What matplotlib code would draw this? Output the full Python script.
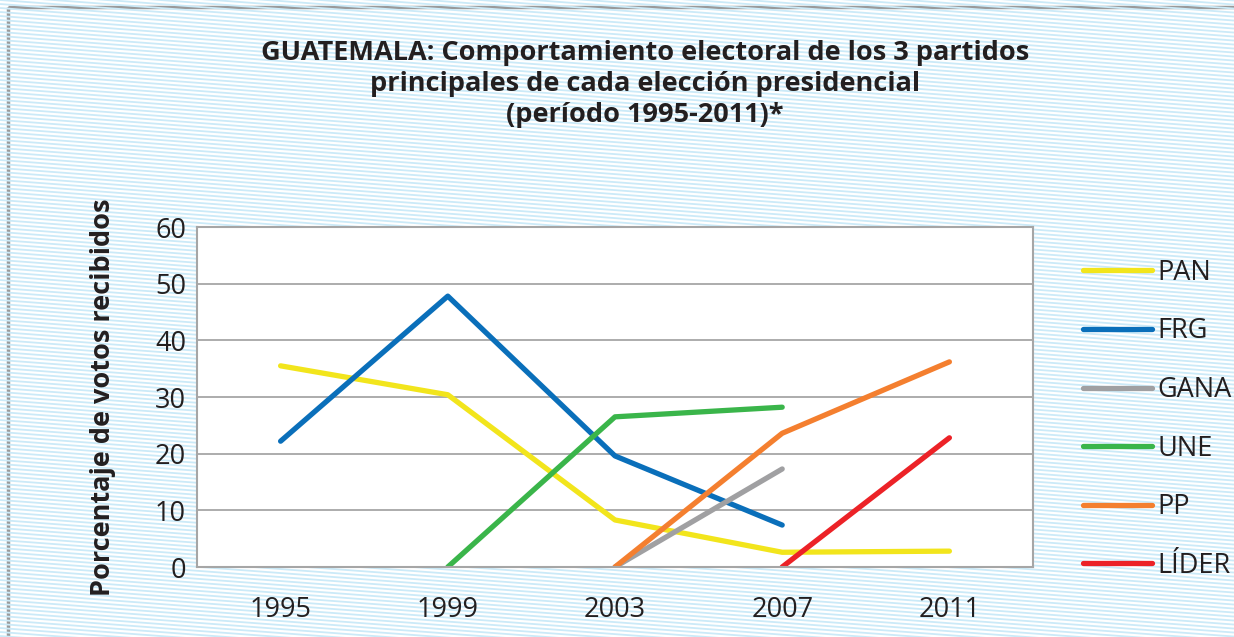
import matplotlib
matplotlib.use("Agg")
import matplotlib.pyplot as plt
from matplotlib.patches import Rectangle
import numpy as np

years = ["1995", "1999", "2003", "2007", "2011"]
PAN = [35.5, 30.4, 8.3, 2.6, 2.8]
FRG = [22.2, 47.8, 19.6, 7.4, None]
GANA = [None, None, 0, 17.3, None]
UNE = [None, 0, 26.5, 28.2, None]
PP = [None, None, 0, 23.6, 36.2]
LIDER = [None, None, None, 0, 22.8]

series = [("PAN", PAN, "#f2e51c"), ("FRG", FRG, "#0a6fba"), ("GANA", GANA, "#a0a0a2"),
          ("UNE", UNE, "#3ab54a"), ("PP", PP, "#f47f2f"), ("LÍDER", LIDER, "#ec2227")]

plt.rcParams['font.family'] = ['Open Sans', 'DejaVu Sans']
W, H = 1234, 637
fig = plt.figure(figsize=(W/100, H/100), dpi=100)
fig.patch.set_facecolor("white")

# striped background
bg = fig.add_axes([0, 0, 1, 1])
bg.set_xlim(0, W); bg.set_ylim(H, 0); bg.axis("off")
xs = np.array([0, W])
for y0 in np.arange(-120, H + 20, 4.0):
    bg.plot(xs, y0 + xs * 0.075, color="#cbeaf8", lw=1.3, solid_capstyle="butt")
bg.add_patch(Rectangle((7.5, 7), W, H, fill=False, ec="#9a9a9a", lw=2.5))

ax = fig.add_axes([197/W, 1 - 567/H, (1033-197)/W, (567-227)/H])
ax.set_facecolor("white")
x = np.arange(len(years))
for name, vals, col in series:
    v = np.array([np.nan if a is None else a for a in vals], dtype=float)
    ax.plot(x, v, color=col, lw=3.8, solid_capstyle="round", label=name)

FS = 19.5
ax.set_xlim(-0.5, 4.5)
ax.set_ylim(0, 60)
ax.set_yticks(range(0, 61, 10))
ax.set_xticks(x)
ax.set_xticklabels(years)
ax.tick_params(axis="both", length=0, labelsize=FS, colors="#231f20")
ax.tick_params(axis="y", pad=8)
ax.tick_params(axis="x", pad=21)
ax.grid(axis="y", color="#a6a6a6", lw=1.3)
ax.set_axisbelow(True)
for s in ax.spines.values():
    s.set_color("#a6a6a6"); s.set_linewidth(1.5)
ax.set_ylabel("Porcentaje de votos recibidos", fontsize=FS, fontweight="bold",
              color="#231f20", labelpad=28)

fig.text(645/W, 1 - 84/H,
         "GUATEMALA: Comportamiento electoral de los 3 partidos\nprincipales de cada elección presidencial\n(período 1995-2011)*",
         ha="center", va="center", fontsize=FS, fontweight="bold", color="#231f20",
         linespacing=1.25)

leg = ax.legend(loc="upper left", bbox_to_anchor=(1.031, 0.978), frameon=False,
                fontsize=FS, handlelength=2.55, handletextpad=0.2, labelspacing=1.13,
                labelcolor="#231f20")

fig.savefig("out.png", dpi=100)
